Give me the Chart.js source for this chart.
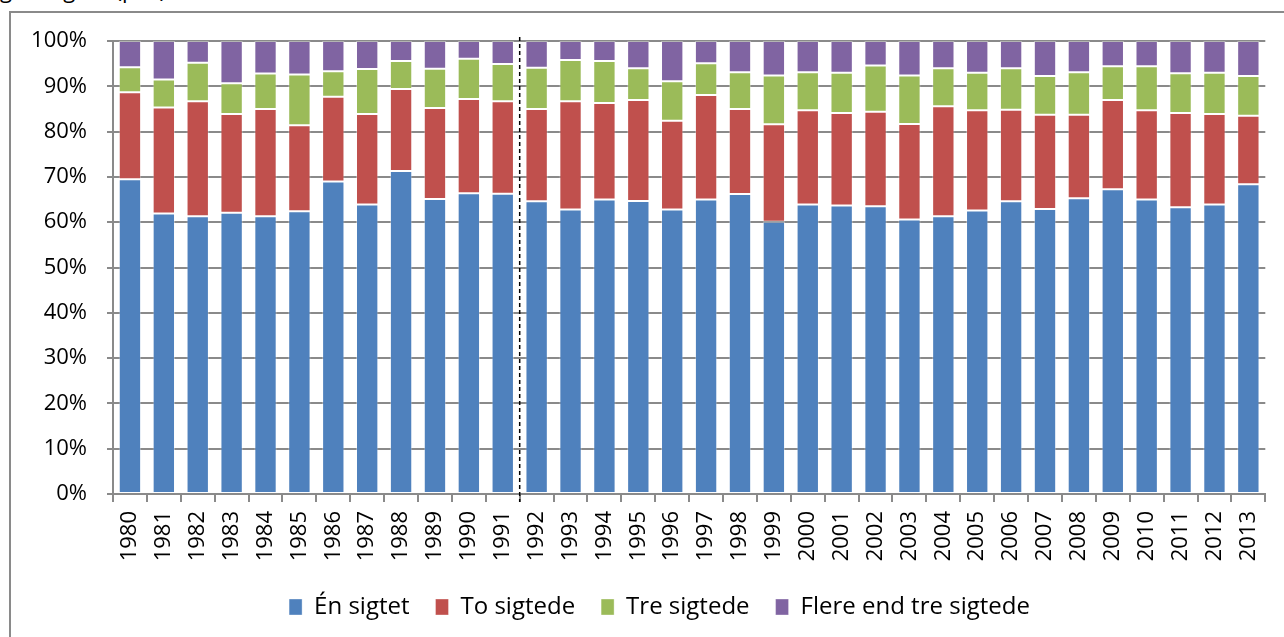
<!DOCTYPE html>
<html>
<head>
<meta charset="utf-8">
<script src="https://cdn.jsdelivr.net/npm/chart.js@4.4.1/dist/chart.umd.min.js"></script>
<style>
  html, body { margin: 0; padding: 0; background: #ffffff; overflow: hidden; }
  #wrap { position: absolute; left: 0; top: 0; width: 1284px; height: 637px; }
  #frame { position: absolute; left: 9px; top: 11px; width: 1290px; height: 700px;
           border-left: 2px solid #8a8a8a; border-top: 2px solid #8a8a8a; }
  #title { position: absolute; left: 0px; top: -22px; font-family: "Open Sans"; font-size: 22px;
           line-height: 22px; color: #000; white-space: nowrap; }
  canvas { position: absolute; left: 0; top: 0; }
</style>
</head>
<body>
<div id="wrap">
  <div id="title">gelsesgrad (pct.)</div>
  <div id="frame"></div>
  <canvas id="c" width="1284" height="637"></canvas>
</div>
<script>
const years = ["1980","1981","1982","1983","1984","1985","1986","1987","1988","1989","1990","1991",
  "1992","1993","1994","1995","1996","1997","1998","1999","2000","2001","2002","2003","2004","2005",
  "2006","2007","2008","2009","2010","2011","2012","2013"];

const enSigtet = [69.5,61.9,61.3,62.1,61.3,62.4,69.0,63.9,71.3,65.1,66.4,66.3,
  64.6,62.8,65.0,64.7,62.8,65.0,66.2,60.1,63.9,63.7,63.5,60.6,61.3,62.6,
  64.6,62.9,65.3,67.3,65.0,63.3,63.9,68.4];
const toSigtede = [19.2,23.4,25.4,21.8,23.7,19.0,18.7,20.0,18.1,20.1,20.8,20.4,
  20.4,23.9,21.3,22.3,19.6,23.1,18.8,21.5,20.8,20.4,20.9,21.1,24.3,22.1,
  20.2,20.8,18.4,19.7,19.7,20.8,20.0,15.1];
const treSigtede = [5.5,6.2,8.5,6.8,7.8,11.2,5.6,9.9,6.2,8.7,8.9,8.2,
  9.1,9.1,9.3,7.0,8.7,7.0,8.1,10.8,8.4,8.9,10.2,10.7,8.4,8.3,
  9.2,8.6,9.4,7.4,9.7,8.8,9.1,8.8];
const flereSigtede = [5.8,8.5,4.8,9.3,7.2,7.4,6.7,6.2,4.4,6.1,3.9,5.1,
  5.9,4.2,4.4,6.0,8.9,4.9,6.9,7.6,6.9,7.0,5.4,7.6,6.0,7.0,
  6.0,7.7,6.9,5.6,5.6,7.1,7.0,7.7];
const yTicks = [0,10,20,30,40,50,60,70,80,90,100];
const seriesNames = ["Én sigtet","To sigtede","Tre sigtede","Flere end tre sigtede"];
const breakAfter = "1991";

const colors = ["#4F81BD","#C0504D","#9BBB59","#8064A2"];
const seriesData = [enSigtet, toSigtede, treSigtede, flereSigtede];

const dashedLine = {
  id: 'dashedLine',
  afterDatasetsDraw(chart) {
    const x = chart.scales.x;
    const idx = years.indexOf(breakAfter);
    const px = (x.getPixelForValue(idx) + x.getPixelForValue(idx + 1)) / 2;
    const ctx = chart.ctx;
    ctx.save();
    ctx.strokeStyle = '#000';
    ctx.lineWidth = 1.5;
    ctx.setLineDash([4, 3]);
    ctx.beginPath();
    ctx.moveTo(px, chart.chartArea.top - 4);
    ctx.lineTo(px, chart.chartArea.bottom + 8);
    ctx.stroke();
    ctx.restore();
  }
};

const legendShift = {
  id: 'legendShift',
  beforeDraw(chart) {
    const lg = chart.legend;
    if (lg && !lg._shifted) {
      lg.left += 26; lg.right += 26; lg._shifted = true;
    }
  }
};

new Chart(document.getElementById('c'), {
  type: 'bar',
  data: {
    labels: years,
    datasets: seriesData.map((d, i) => ({
      label: seriesNames[i],
      data: d,
      backgroundColor: colors[i],
      borderColor: 'rgba(255,255,255,0.35)',
      borderWidth: 1,
      borderSkipped: false,
      categoryPercentage: 1.0,
      barPercentage: 0.66
    }))
  },
  options: {
    responsive: false,
    animation: false,
    devicePixelRatio: 1,
    layout: { padding: { left: 0, right: 17, top: 41, bottom: 8 } },
    plugins: {
      tooltip: { enabled: false },
      legend: {
        position: 'bottom',
        labels: {
          font: { family: 'Open Sans', size: 24 },
          color: '#000',
          boxWidth: 13,
          boxHeight: 16,
          padding: 26
        }
      }
    },
    scales: {
      x: {
        stacked: true,
        afterFit(s) { s.height = 75; },
        grid: { display: true, drawOnChartArea: false, drawTicks: true, tickLength: 8,
                color: '#8a8a8a', lineWidth: 2, offset: true },
        border: { display: true, color: '#8a8a8a', width: 2 },
        ticks: { font: { family: 'Open Sans', size: 22 }, color: '#000',
                 maxRotation: 90, minRotation: 90, padding: 9, autoSkip: false }
      },
      y: {
        stacked: true,
        min: 0, max: 100,
        afterFit(s) { s.width = 113; },
        afterBuildTicks(s) { s.ticks = yTicks.map(v => ({ value: v })); },
        grid: { color: '#8a8a8a', lineWidth: 2, tickLength: 6, drawTicks: true },
        border: { display: true, color: '#8a8a8a', width: 2 },
        ticks: { font: { family: 'Open Sans', size: 22 }, color: '#000', padding: 20,
                 callback: v => v + '%' }
      }
    }
  },
  plugins: [dashedLine, legendShift]
});
</script>
</body>
</html>
